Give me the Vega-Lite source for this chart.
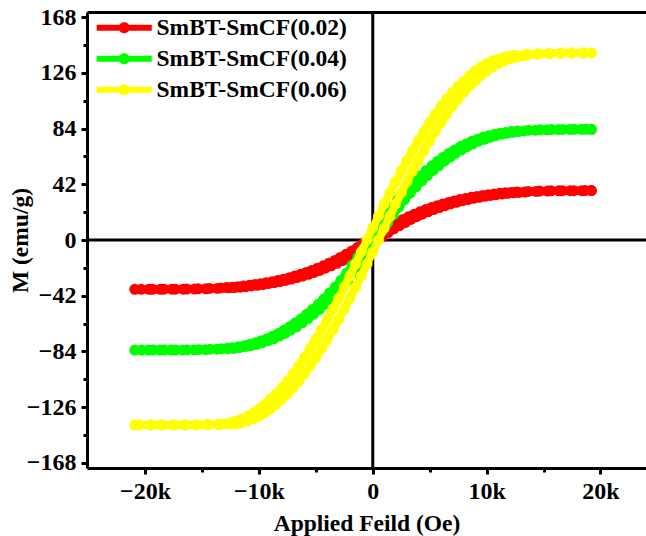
{
"$schema": "https://vega.github.io/schema/vega-lite/v6.json",
"width": 559, "height": 456,
"autosize": {"type": "none"},
"padding": {"left": 87, "top": 12, "right": 0, "bottom": 68},
"background": "white",
"datasets": {
"red": [
{"H":19200,"M":37.3},{"H":18650,"M":37.3},{"H":17650,"M":37.2},{"H":16650,"M":37.2},{"H":15650,"M":37.1},{"H":14650,"M":36.9},{"H":13650,"M":36.6},{"H":12650,"M":36.2},{"H":12150,"M":35.9},{"H":11650,"M":35.6},{"H":11150,"M":35.2},{"H":10650,"M":34.7},{"H":10150,"M":34.2},{"H":9650,"M":33.6},{"H":9150,"M":32.9},{"H":8650,"M":32.2},{"H":8150,"M":31.4},{"H":7650,"M":30.5},{"H":7150,"M":29.5},{"H":6650,"M":28.4},{"H":6150,"M":27.2},{"H":5650,"M":25.9},{"H":5150,"M":24.5},{"H":4650,"M":23},{"H":4150,"M":21.3},{"H":3650,"M":19.5},{"H":3150,"M":17.6},{"H":2650,"M":15.5},{"H":2150,"M":13.2},{"H":1650,"M":10.8},{"H":1150,"M":8.3},{"H":650,"M":5.6},{"H":150,"M":2.8},{"H":-350,"M":0},{"H":-850,"M":-2.8},{"H":-1350,"M":-5.6},{"H":-1850,"M":-8.3},{"H":-2350,"M":-10.8},{"H":-2850,"M":-13.2},{"H":-3350,"M":-15.5},{"H":-3850,"M":-17.6},{"H":-4350,"M":-19.5},{"H":-4850,"M":-21.3},{"H":-5350,"M":-23},{"H":-5850,"M":-24.5},{"H":-6350,"M":-25.9},{"H":-6850,"M":-27.2},{"H":-7350,"M":-28.4},{"H":-7850,"M":-29.5},{"H":-8350,"M":-30.5},{"H":-8850,"M":-31.4},{"H":-9350,"M":-32.2},{"H":-9850,"M":-32.9},{"H":-10350,"M":-33.6},{"H":-10850,"M":-34.2},{"H":-11350,"M":-34.7},{"H":-11850,"M":-35.2},{"H":-12350,"M":-35.6},{"H":-12850,"M":-35.9},{"H":-13350,"M":-36.1},{"H":-14350,"M":-36.5},{"H":-15350,"M":-36.8},{"H":-16350,"M":-37},{"H":-17350,"M":-37.1},{"H":-18350,"M":-37.1},{"H":-19350,"M":-37.2},{"H":-20350,"M":-37.2},{"H":-20900,"M":-37.2},
{"H":-19650,"M":-37.2},{"H":-18650,"M":-37.2},{"H":-17650,"M":-37.1},{"H":-16650,"M":-37.1},{"H":-15650,"M":-37},{"H":-14650,"M":-36.8},{"H":-13650,"M":-36.5},{"H":-12650,"M":-36.1},{"H":-12150,"M":-35.9},{"H":-11650,"M":-35.6},{"H":-11150,"M":-35.2},{"H":-10650,"M":-34.7},{"H":-10150,"M":-34.2},{"H":-9650,"M":-33.6},{"H":-9150,"M":-32.9},{"H":-8650,"M":-32.2},{"H":-8150,"M":-31.4},{"H":-7650,"M":-30.5},{"H":-7150,"M":-29.5},{"H":-6650,"M":-28.4},{"H":-6150,"M":-27.2},{"H":-5650,"M":-25.9},{"H":-5150,"M":-24.5},{"H":-4650,"M":-23},{"H":-4150,"M":-21.3},{"H":-3650,"M":-19.5},{"H":-3150,"M":-17.6},{"H":-2650,"M":-15.5},{"H":-2150,"M":-13.2},{"H":-1650,"M":-10.8},{"H":-1150,"M":-8.3},{"H":-650,"M":-5.6},{"H":-150,"M":-2.8},{"H":350,"M":0},{"H":850,"M":2.8},{"H":1350,"M":5.6},{"H":1850,"M":8.3},{"H":2350,"M":10.8},{"H":2850,"M":13.2},{"H":3350,"M":15.5},{"H":3850,"M":17.6},{"H":4350,"M":19.5},{"H":4850,"M":21.3},{"H":5350,"M":23},{"H":5850,"M":24.5},{"H":6350,"M":25.9},{"H":6850,"M":27.2},{"H":7350,"M":28.4},{"H":7850,"M":29.5},{"H":8350,"M":30.5},{"H":8850,"M":31.4},{"H":9350,"M":32.2},{"H":9850,"M":32.9},{"H":10350,"M":33.6},{"H":10850,"M":34.2},{"H":11350,"M":34.7},{"H":11850,"M":35.2},{"H":12350,"M":35.6},{"H":12850,"M":35.9},{"H":13350,"M":36.2},{"H":14350,"M":36.6},{"H":15350,"M":36.9},{"H":16350,"M":37.1},{"H":17350,"M":37.2},{"H":18350,"M":37.2},{"H":19200,"M":37.3}
],
"green": [
{"H":19200,"M":83.5},{"H":18700,"M":83.5},{"H":17700,"M":83.5},{"H":16700,"M":83.4},{"H":15700,"M":83.3},{"H":14700,"M":83.1},{"H":13700,"M":82.8},{"H":12700,"M":82.3},{"H":12200,"M":81.8},{"H":11700,"M":81.2},{"H":11200,"M":80.5},{"H":10700,"M":79.7},{"H":10200,"M":78.7},{"H":9700,"M":77.5},{"H":9200,"M":76},{"H":8700,"M":74.5},{"H":8200,"M":72.5},{"H":7700,"M":70.5},{"H":7200,"M":68},{"H":6700,"M":65.5},{"H":6200,"M":62.5},{"H":5700,"M":59.5},{"H":5200,"M":56},{"H":4700,"M":52.5},{"H":4200,"M":48.5},{"H":3700,"M":44.5},{"H":3200,"M":40},{"H":2700,"M":35.5},{"H":2200,"M":30.5},{"H":1700,"M":25},{"H":1200,"M":19},{"H":700,"M":13},{"H":200,"M":6.5},{"H":-300,"M":0},{"H":-800,"M":-6.5},{"H":-1300,"M":-13},{"H":-1800,"M":-19},{"H":-2300,"M":-25},{"H":-2800,"M":-30.5},{"H":-3300,"M":-35.5},{"H":-3800,"M":-40},{"H":-4300,"M":-44.5},{"H":-4800,"M":-48.5},{"H":-5300,"M":-52.5},{"H":-5800,"M":-56},{"H":-6300,"M":-59.5},{"H":-6800,"M":-62.5},{"H":-7300,"M":-65.5},{"H":-7800,"M":-68},{"H":-8300,"M":-70.5},{"H":-8800,"M":-72.5},{"H":-9300,"M":-74.5},{"H":-9800,"M":-76},{"H":-10300,"M":-77.5},{"H":-10800,"M":-78.7},{"H":-11300,"M":-79.7},{"H":-11800,"M":-80.5},{"H":-12300,"M":-81.2},{"H":-12800,"M":-81.8},{"H":-13300,"M":-82},{"H":-14300,"M":-82.4},{"H":-15300,"M":-82.7},{"H":-16300,"M":-82.9},{"H":-17300,"M":-83},{"H":-18300,"M":-83},{"H":-19300,"M":-83},{"H":-20300,"M":-83},{"H":-20900,"M":-83},
{"H":-19700,"M":-83},{"H":-18700,"M":-83},{"H":-17700,"M":-83},{"H":-16700,"M":-83},{"H":-15700,"M":-82.9},{"H":-14700,"M":-82.7},{"H":-13700,"M":-82.4},{"H":-12700,"M":-82},{"H":-12200,"M":-81.8},{"H":-11700,"M":-81.2},{"H":-11200,"M":-80.5},{"H":-10700,"M":-79.7},{"H":-10200,"M":-78.7},{"H":-9700,"M":-77.5},{"H":-9200,"M":-76},{"H":-8700,"M":-74.5},{"H":-8200,"M":-72.5},{"H":-7700,"M":-70.5},{"H":-7200,"M":-68},{"H":-6700,"M":-65.5},{"H":-6200,"M":-62.5},{"H":-5700,"M":-59.5},{"H":-5200,"M":-56},{"H":-4700,"M":-52.5},{"H":-4200,"M":-48.5},{"H":-3700,"M":-44.5},{"H":-3200,"M":-40},{"H":-2700,"M":-35.5},{"H":-2200,"M":-30.5},{"H":-1700,"M":-25},{"H":-1200,"M":-19},{"H":-700,"M":-13},{"H":-200,"M":-6.5},{"H":300,"M":0},{"H":800,"M":6.5},{"H":1300,"M":13},{"H":1800,"M":19},{"H":2300,"M":25},{"H":2800,"M":30.5},{"H":3300,"M":35.5},{"H":3800,"M":40},{"H":4300,"M":44.5},{"H":4800,"M":48.5},{"H":5300,"M":52.5},{"H":5800,"M":56},{"H":6300,"M":59.5},{"H":6800,"M":62.5},{"H":7300,"M":65.5},{"H":7800,"M":68},{"H":8300,"M":70.5},{"H":8800,"M":72.5},{"H":9300,"M":74.5},{"H":9800,"M":76},{"H":10300,"M":77.5},{"H":10800,"M":78.7},{"H":11300,"M":79.7},{"H":11800,"M":80.5},{"H":12300,"M":81.2},{"H":12800,"M":81.8},{"H":13300,"M":82.3},{"H":14300,"M":82.8},{"H":15300,"M":83.1},{"H":16300,"M":83.3},{"H":17300,"M":83.4},{"H":18300,"M":83.5},{"H":19200,"M":83.5}
],
"yellow": [
{"H":19200,"M":141.1},{"H":18500,"M":141.1},{"H":17500,"M":141},{"H":16500,"M":141},{"H":15500,"M":140.8},{"H":14500,"M":140.6},{"H":13500,"M":140.2},{"H":12500,"M":139.4},{"H":12000,"M":138.7},{"H":11500,"M":137.8},{"H":11000,"M":136.5},{"H":10500,"M":135},{"H":10000,"M":133},{"H":9500,"M":130.5},{"H":9000,"M":127.5},{"H":8500,"M":124},{"H":8000,"M":120},{"H":7500,"M":116},{"H":7000,"M":111.5},{"H":6500,"M":106.5},{"H":6000,"M":101},{"H":5500,"M":95},{"H":5000,"M":88.5},{"H":4500,"M":82},{"H":4000,"M":75},{"H":3500,"M":67.5},{"H":3000,"M":60},{"H":2500,"M":52},{"H":2000,"M":44},{"H":1500,"M":35.5},{"H":1000,"M":27},{"H":500,"M":18},{"H":0,"M":9},{"H":-500,"M":0},{"H":-1000,"M":-9},{"H":-1500,"M":-18},{"H":-2000,"M":-27},{"H":-2500,"M":-35.5},{"H":-3000,"M":-44},{"H":-3500,"M":-52},{"H":-4000,"M":-60},{"H":-4500,"M":-67.5},{"H":-5000,"M":-75},{"H":-5500,"M":-82},{"H":-6000,"M":-88.5},{"H":-6500,"M":-95},{"H":-7000,"M":-101},{"H":-7500,"M":-106.5},{"H":-8000,"M":-111.5},{"H":-8500,"M":-116},{"H":-9000,"M":-120},{"H":-9500,"M":-124},{"H":-10000,"M":-127.5},{"H":-10500,"M":-130.5},{"H":-11000,"M":-133},{"H":-11500,"M":-135},{"H":-12000,"M":-136.5},{"H":-12500,"M":-137.8},{"H":-13000,"M":-138.7},{"H":-13500,"M":-138.8},{"H":-14500,"M":-139.2},{"H":-15500,"M":-139.4},{"H":-16500,"M":-139.5},{"H":-17500,"M":-139.5},{"H":-18500,"M":-139.5},{"H":-19500,"M":-139.5},{"H":-20500,"M":-139.5},{"H":-20900,"M":-139.5},
{"H":-19500,"M":-139.5},{"H":-18500,"M":-139.5},{"H":-17500,"M":-139.5},{"H":-16500,"M":-139.5},{"H":-15500,"M":-139.5},{"H":-14500,"M":-139.4},{"H":-13500,"M":-139.2},{"H":-12500,"M":-138.8},{"H":-12000,"M":-138.7},{"H":-11500,"M":-137.8},{"H":-11000,"M":-136.5},{"H":-10500,"M":-135},{"H":-10000,"M":-133},{"H":-9500,"M":-130.5},{"H":-9000,"M":-127.5},{"H":-8500,"M":-124},{"H":-8000,"M":-120},{"H":-7500,"M":-116},{"H":-7000,"M":-111.5},{"H":-6500,"M":-106.5},{"H":-6000,"M":-101},{"H":-5500,"M":-95},{"H":-5000,"M":-88.5},{"H":-4500,"M":-82},{"H":-4000,"M":-75},{"H":-3500,"M":-67.5},{"H":-3000,"M":-60},{"H":-2500,"M":-52},{"H":-2000,"M":-44},{"H":-1500,"M":-35.5},{"H":-1000,"M":-27},{"H":-500,"M":-18},{"H":0,"M":-9},{"H":500,"M":0},{"H":1000,"M":9},{"H":1500,"M":18},{"H":2000,"M":27},{"H":2500,"M":35.5},{"H":3000,"M":44},{"H":3500,"M":52},{"H":4000,"M":60},{"H":4500,"M":67.5},{"H":5000,"M":75},{"H":5500,"M":82},{"H":6000,"M":88.5},{"H":6500,"M":95},{"H":7000,"M":101},{"H":7500,"M":106.5},{"H":8000,"M":111.5},{"H":8500,"M":116},{"H":9000,"M":120},{"H":9500,"M":124},{"H":10000,"M":127.5},{"H":10500,"M":130.5},{"H":11000,"M":133},{"H":11500,"M":135},{"H":12000,"M":136.5},{"H":12500,"M":137.8},{"H":13000,"M":138.7},{"H":13500,"M":139.4},{"H":14500,"M":140.2},{"H":15500,"M":140.6},{"H":16500,"M":140.8},{"H":17500,"M":141},{"H":18500,"M":141},{"H":19200,"M":141.1}
]
},
"config": {
"view": {"stroke": null},
"axis": {"labelFont": "Liberation Serif", "labelFontWeight": "bold", "labelFontSize": 24, "labelColor": "black", "titleFont": "Liberation Serif", "titleFontWeight": "bold", "titleFontSize": 23.5, "titleColor": "black", "domainColor": "black", "domainWidth": 3, "tickColor": "black", "tickWidth": 3, "tickSize": 6, "grid": false, "labelPadding": 5},
"legend": {"orient": "none", "legendX": 8, "legendY": 4, "padding": 0, "labelFont": "Liberation Serif", "labelFontWeight": "bold", "labelFontSize": 23.5, "labelColor": "black", "labelLimit": 0, "symbolType": "M-1,-0.3H4.5V0.3H-1Z M1.2,0 A0.55,0.55 0 1,1 2.3,0 A0.55,0.55 0 1,1 1.2,0Z", "symbolSize": 400, "symbolStrokeWidth": 0, "labelOffset": 38, "rowPadding": 6}
},
"resolve": {"axis": {"x": "independent", "y": "independent"}},
"layer": [
{"data": {"values": [{"v": 0}]}, "mark": {"type": "rule", "stroke": "black", "strokeWidth": 3},
 "encoding": {"x": {"field": "v", "type": "quantitative", "scale": {"domain": [-25100, 24000], "nice": false, "zero": false},
   "axis": {"orient": "bottom", "values": [-20000, -10000, 0, 10000, 20000], "labelExpr": "datum.value == 0 ? '0' : (datum.value < 0 ? '−' : '') + format(abs(datum.value) / 1000, 'd') + 'k'", "title": "Applied Feild (Oe)", "titlePadding": 8}}}},
{"data": {"values": [{"v": 0}]}, "mark": {"type": "rule", "stroke": "black", "strokeWidth": 3},
 "encoding": {"y": {"field": "v", "type": "quantitative", "scale": {"domain": [-172, 172], "nice": false, "zero": false},
   "axis": {"orient": "left", "values": [-168, -126, -84, -42, 0, 42, 84, 126, 168], "labelExpr": "datum.value < 0 ? '−' + abs(datum.value) : '' + datum.value", "title": "M (emu/g)", "labelPadding": 5, "titleX": -67, "titleY": 228, "titleAlign": "center", "titleBaseline": "middle", "titleAngle": -90}}}},
{"data": {"name": "red"}, "mark": {"type": "line", "strokeWidth": 8, "color": "#ff0000"},
 "encoding": {"x": {"field": "H", "type": "quantitative", "scale": {"domain": [-25100, 24000], "nice": false, "zero": false}, "axis": {"orient": "bottom", "values": [-15000, -5000, 5000, 15000], "labels": false, "domain": false, "tickSize": 4, "title": null}},
  "y": {"field": "M", "type": "quantitative", "scale": {"domain": [-172, 172], "nice": false, "zero": false}, "axis": {"orient": "left", "values": [-147, -105, -63, -21, 21, 63, 105, 147], "labels": false, "domain": false, "tickSize": 4, "title": null}},
  "order": {"value": null}}},
{"data": {"name": "red"}, "mark": {"type": "point", "filled": true, "opacity": 1, "size": 120, "strokeWidth": 0},
 "encoding": {"x": {"field": "H", "type": "quantitative", "scale": {"domain": [-25100, 24000], "nice": false, "zero": false}, "axis": {"orient": "top", "ticks": false, "labels": false, "domain": true, "title": null}},
  "y": {"field": "M", "type": "quantitative", "scale": {"domain": [-172, 172], "nice": false, "zero": false}, "axis": null},
  "color": {"datum": "SmBT-SmCF(0.02)", "type": "nominal", "scale": {"domain": ["SmBT-SmCF(0.02)", "SmBT-SmCF(0.04)", "SmBT-SmCF(0.06)"], "range": ["#ff0000", "#00ff00", "#ffff00"]}, "legend": {"title": null}}}},
{"data": {"name": "green"}, "mark": {"type": "line", "strokeWidth": 8, "color": "#00ff00"},
 "encoding": {"x": {"field": "H", "type": "quantitative", "scale": {"domain": [-25100, 24000], "nice": false, "zero": false}, "axis": null},
  "y": {"field": "M", "type": "quantitative", "scale": {"domain": [-172, 172], "nice": false, "zero": false}, "axis": null},
  "order": {"value": null}}},
{"data": {"name": "green"}, "mark": {"type": "point", "filled": true, "opacity": 1, "size": 120, "strokeWidth": 0},
 "encoding": {"x": {"field": "H", "type": "quantitative", "scale": {"domain": [-25100, 24000], "nice": false, "zero": false}, "axis": null},
  "y": {"field": "M", "type": "quantitative", "scale": {"domain": [-172, 172], "nice": false, "zero": false}, "axis": null},
  "color": {"datum": "SmBT-SmCF(0.04)", "type": "nominal", "scale": {"domain": ["SmBT-SmCF(0.02)", "SmBT-SmCF(0.04)", "SmBT-SmCF(0.06)"], "range": ["#ff0000", "#00ff00", "#ffff00"]}, "legend": {"title": null}}}},
{"data": {"name": "yellow"}, "mark": {"type": "line", "strokeWidth": 8, "color": "#ffff00"},
 "encoding": {"x": {"field": "H", "type": "quantitative", "scale": {"domain": [-25100, 24000], "nice": false, "zero": false}, "axis": null},
  "y": {"field": "M", "type": "quantitative", "scale": {"domain": [-172, 172], "nice": false, "zero": false}, "axis": null},
  "order": {"value": null}}},
{"data": {"name": "yellow"}, "mark": {"type": "point", "filled": true, "opacity": 1, "size": 120, "strokeWidth": 0},
 "encoding": {"x": {"field": "H", "type": "quantitative", "scale": {"domain": [-25100, 24000], "nice": false, "zero": false}, "axis": null},
  "y": {"field": "M", "type": "quantitative", "scale": {"domain": [-172, 172], "nice": false, "zero": false}, "axis": null},
  "color": {"datum": "SmBT-SmCF(0.06)", "type": "nominal", "scale": {"domain": ["SmBT-SmCF(0.02)", "SmBT-SmCF(0.04)", "SmBT-SmCF(0.06)"], "range": ["#ff0000", "#00ff00", "#ffff00"]}, "legend": {"title": null}}}}
]
}
